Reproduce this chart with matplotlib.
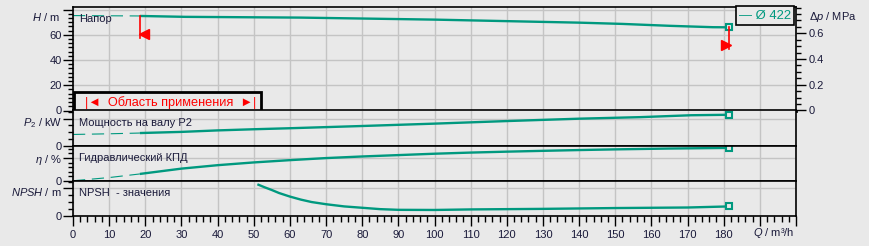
import matplotlib
matplotlib.use('Agg')
import numpy as np
import matplotlib.pyplot as plt
from matplotlib.ticker import MultipleLocator
import matplotlib.transforms as mtransforms

plt.rcParams['font.family'] = ['Liberation Sans', 'DejaVu Sans']
plt.rcParams['mathtext.fontset'] = 'custom'
plt.rcParams['mathtext.rm'] = 'Liberation Sans'
plt.rcParams['mathtext.it'] = 'Liberation Sans:italic'

# pump curve data
q_h = [0, 18.5, 31, 63, 100, 140, 152, 158, 165, 177, 181.6]
h = [75.2, 74.9, 74.2, 73.6, 72.0, 69.6, 68.6, 67.9, 67.1, 66.0, 65.9]

q_p2 = [0, 10, 18.5, 30, 40, 50, 60, 80, 100, 120, 140, 157, 171, 181.6]
p2 = [16.6, 17.6, 18.7, 20.4, 22.6, 24.3, 25.8, 29.1, 32.6, 36.4, 39.9, 42.2, 45.0, 45.7]

q_eta = [0, 10, 18.5, 30, 40, 50, 60, 70, 80, 90, 100, 110, 120, 130, 140, 150, 165, 181.6]
eta = [0.5, 7.5, 15.4, 27, 34.5, 40.5, 45.5, 50, 53.5, 56.5, 59.5, 62.0, 64.0, 65.8, 67.5, 69.0, 70.8, 72.2]

q_npsh = [51, 53, 55, 57, 60, 63, 66, 70, 75, 80, 85, 90, 100, 110, 130, 150, 170, 181.6]
npsh = [11.5, 10.4, 9.4, 8.3, 7.0, 5.9, 5.0, 4.2, 3.4, 2.9, 2.4, 2.15, 2.1, 2.3, 2.5, 2.8, 3.0, 3.4]

op_min, op_max = 18.5, 181.6
op_min_flag = [57.6, 60.8]   # H of red line bottom / arrow
op_max_flag = [48.9, 52.0]

x_ticks = list(range(0, 190, 10))
diam_label = '— Ø 422'

bg = '#E9E9E9'
teal = '#00997F'
grid_c = '#C4C4C4'
txt_c = '#1A1A3A'
fs = 8

W, H = 869, 246
fig = plt.figure(figsize=(W / 100, H / 100), dpi=100, facecolor=bg)
L = 73 / W
Wd = (796 - 73) / W


def make_ax(y0, y1):
    ax = fig.add_axes([L, 1 - y1 / H, Wd, (y1 - y0) / H])
    ax.set_facecolor(bg)
    ax.set_xlim(0, 200)
    ax.xaxis.set_major_locator(MultipleLocator(10))
    ax.xaxis.set_minor_locator(MultipleLocator(2))
    ax.grid(True, which='major', color=grid_c, lw=1.0)
    ax.set_axisbelow(True)
    for s in ax.spines.values():
        s.set_color('black')
        s.set_linewidth(1.2)
    ax.tick_params(axis='y', which='major', length=7, width=1, pad=1,
                   labelsize=fs, labelcolor=txt_c)
    ax.tick_params(axis='y', which='minor', length=3.6, width=1)
    ax.tick_params(axis='x', which='both', length=0, labelbottom=False)
    return ax


def draw_curve(ax, q, v):
    q = np.array(q)
    v = np.array(v)
    lo = q <= op_min
    hi = q >= op_min
    if lo.sum() > 1:
        ax.plot(q[lo], v[lo], color=teal, lw=0.8, ls=(0, (11, 6)))
    ax.plot(q[hi], v[hi], color=teal, lw=1.7, solid_capstyle='butt')
    ax.plot(q[-1], v[-1], marker='s', ms=5, mfc=bg, mec=teal, mew=1.5)


def shift_unit_label(ax, dy_px):
    # move the unit tick label (second major tick) down a little
    lab = ax.get_yticklabels()[1]
    off = mtransforms.ScaledTranslation(0, -dy_px / 100, fig.dpi_scale_trans)
    lab.set_transform(lab.get_transform() + off)


# top panel: head
ax_h = make_ax(7, 110.5)
ax_h.set_ylim(0, 82)
ax_h.set_yticks([0, 20, 40, 60, 80])
ax_h.set_yticklabels(['0', '20', '40', '60', ''])
ax_h.yaxis.set_minor_locator(MultipleLocator(20 / 6))
ax_h.spines['bottom'].set_linewidth(2)
draw_curve(ax_h, q_h, h)
ax_h.text(-0.018, 74, r'$H$ / m', transform=mtransforms.blended_transform_factory(ax_h.transAxes, ax_h.transData),
          ha='right', va='center', fontsize=fs, color=txt_c)
ax_h.text(0.0085, 0.885, 'Напор', transform=ax_h.transAxes, fontsize=fs, color=txt_c, va='center')

# operating range flags
h_min = np.interp(op_min, q_h, h)
h_max = np.interp(op_max, q_h, h)
ax_h.plot([op_min, op_min], [h_min, op_min_flag[0]], color='red', lw=1.2)
ax_h.plot([op_max, op_max], [h_max, op_max_flag[0]], color='red', lw=1.2)
ax_h.plot(op_min + 1.1, op_min_flag[1], marker='<', color='red', ms=7)
ax_h.plot(op_max - 1.1, op_max_flag[1], marker='>', color='red', ms=7)

ax_h.text(0.007, 0.012, '  |◄  Область применения  ►|', transform=ax_h.transAxes,
          ha='left', va='bottom', fontsize=9.2, color='red',
          bbox=dict(boxstyle='square,pad=0.35', fc=bg, ec='black', lw=2))
ax_h.text(0.993, 0.975, diam_label, transform=ax_h.transAxes, ha='right', va='top',
          fontsize=9.4, color=teal,
          bbox=dict(boxstyle='square,pad=0.25', fc=bg, ec='black', lw=1.2))

# right axis: delta p
ax_dp = ax_h.twinx()
ax_dp.set_ylim(0, 82 * 0.00981)
ax_dp.set_yticks([0, 0.2, 0.4, 0.6])
ax_dp.set_yticklabels(['0', '0.2', '0.4', '0.6'])
ax_dp.yaxis.set_minor_locator(MultipleLocator(0.05))
ax_dp.tick_params(axis='y', which='major', length=7, width=1, pad=2, labelsize=fs, labelcolor=txt_c)
ax_dp.tick_params(axis='y', which='minor', length=3.6, width=1)
for s in ax_dp.spines.values():
    s.set_visible(False)
ax_dp.text(1.018, 74 * 0.00981, r'$\Delta p$ / MPa',
           transform=mtransforms.blended_transform_factory(ax_dp.transAxes, ax_dp.transData),
           ha='left', va='center', fontsize=fs, color=txt_c)

# P2 panel
ax_p = make_ax(110.5, 145.7)
ax_p.set_ylim(0, 52)
ax_p.set_yticks([0, 40])
ax_p.set_yticklabels(['0', r'$P_2$ / kW'])
ax_p.yaxis.set_minor_locator(MultipleLocator(10))
shift_unit_label(ax_p, 3)
draw_curve(ax_p, q_p2, p2)
ax_p.text(0.0085, 0.64, 'Мощность на валу P2', transform=ax_p.transAxes, fontsize=fs, color=txt_c, va='center')

# efficiency panel
ax_e = make_ax(145.7, 181)
ax_e.set_ylim(0, 77)
ax_e.set_yticks([0, 50])
ax_e.set_yticklabels(['0', r'$\eta$ / %'])
ax_e.yaxis.set_minor_locator(MultipleLocator(10))
draw_curve(ax_e, q_eta, eta)
ax_e.text(0.0085, 0.64, 'Гидравлический КПД', transform=ax_e.transAxes, fontsize=fs, color=txt_c, va='center')

# NPSH panel
ax_n = make_ax(181, 215.7)
ax_n.set_ylim(0, 12.7)
ax_n.set_yticks([0, 10])
ax_n.set_yticklabels(['0', r'$NPSH$ / m'])
ax_n.yaxis.set_minor_locator(MultipleLocator(2.5))
shift_unit_label(ax_n, 3)
draw_curve(ax_n, q_npsh, npsh)
ax_n.text(0.0085, 0.645, 'NPSH  - значения', transform=ax_n.transAxes, fontsize=fs, color=txt_c, va='center')

ax_n.set_xticks(list(range(0, 210, 10)))
ax_n.set_xticklabels([str(t) for t in x_ticks] + ['', ''])
ax_n.tick_params(axis='x', which='major', length=7, width=1, pad=3, labelbottom=True,
                 labelsize=fs, labelcolor=txt_c)
ax_n.tick_params(axis='x', which='minor', length=4, width=1)
fig.text(794 / W, 1 - 233 / H, r'$Q$ / m³/h', ha='right', va='center', fontsize=fs, color=txt_c)

fig.savefig('out.png', dpi=100, facecolor=bg)
